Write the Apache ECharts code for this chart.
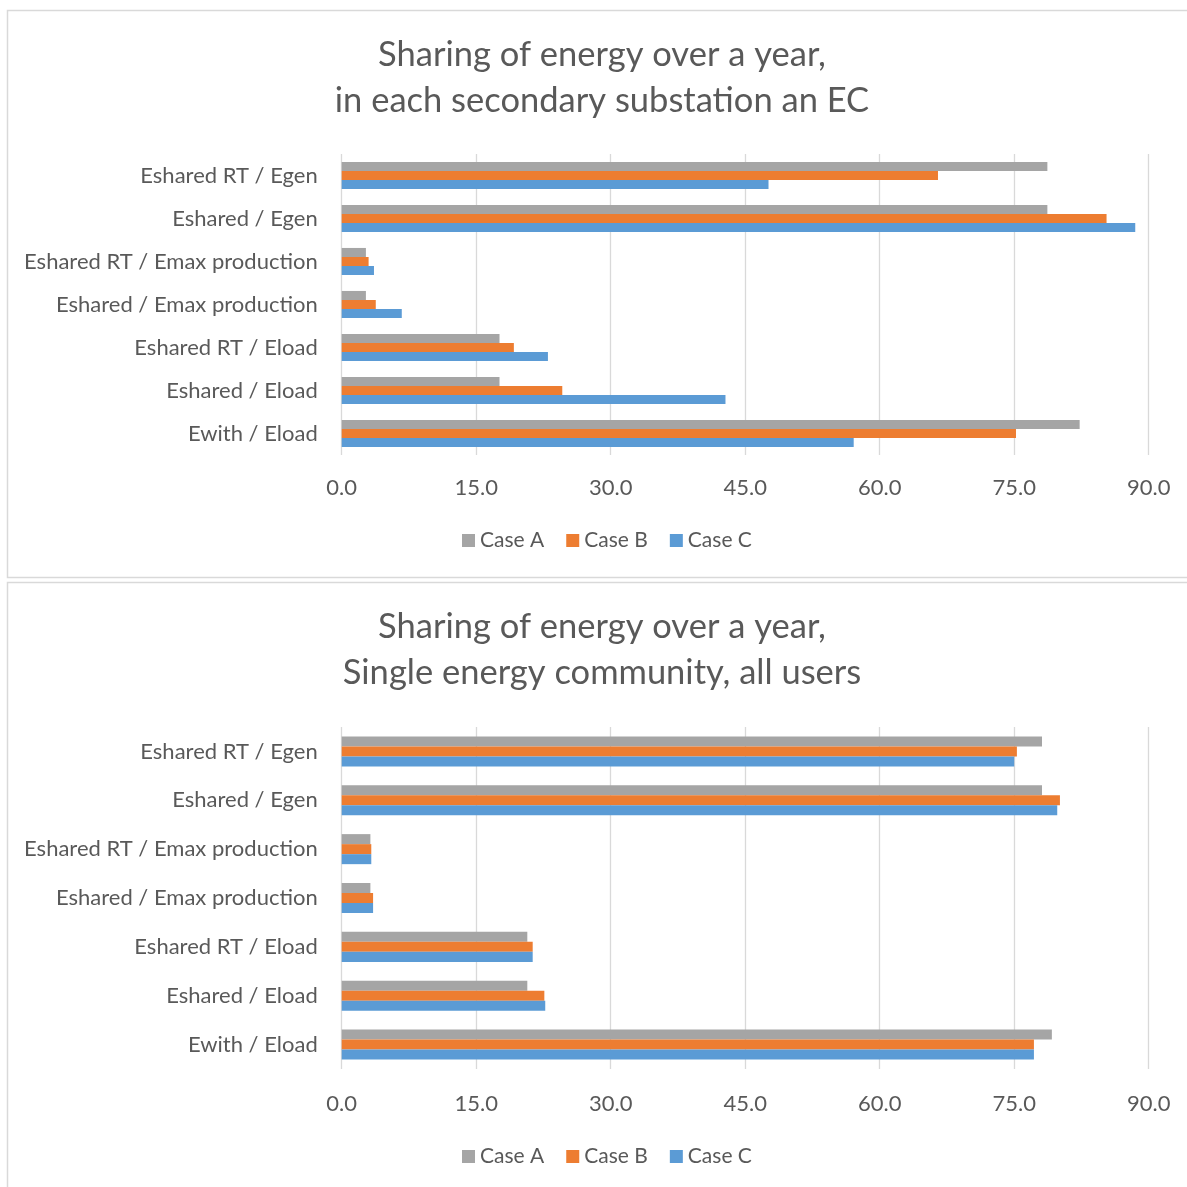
<!DOCTYPE html>
<html>
<head>
<meta charset="utf-8">
<script src="https://cdn.jsdelivr.net/npm/echarts@6/dist/echarts.min.js"></script>
<style>
  html, body { margin: 0; padding: 0; background: #ffffff; }
  #chart { width: 1187px; height: 1187px; }
</style>
</head>
<body>
<div id="chart"></div>
<script>
// Indicator labels, listed top to bottom
const categories = [
  'Eshared RT / Egen',
  'Eshared / Egen',
  'Eshared RT / Emax production',
  'Eshared / Emax production',
  'Eshared RT / Eload',
  'Eshared / Eload',
  'Ewith / Eload'
];
const caseNames = ['Case A', 'Case B', 'Case C'];
const caseColors = ['#A5A5A5', '#ED7D31', '#5B9BD5'];

// Value axis ticks
const axisMin = 0;
const axisMax = 90;
const axisStep = 15;

// Per secondary substation EC (values in %)
const substationCaseA = [78.7, 78.7, 2.7, 2.7, 17.6, 17.6, 82.3];
const substationCaseB = [66.5, 85.3, 3.0, 3.8, 19.2, 24.6, 75.2];
const substationCaseC = [47.6, 88.5, 3.6, 6.7, 23.0, 42.8, 57.1];

// Single energy community, all users (values in %)
const communityCaseA = [78.1, 78.1, 3.2, 3.2, 20.7, 20.7, 79.2];
const communityCaseB = [75.3, 80.1, 3.3, 3.5, 21.3, 22.6, 77.2];
const communityCaseC = [75.0, 79.8, 3.3, 3.5, 21.3, 22.7, 77.2];

const titleTop = ['Sharing of energy over a year,', 'in each secondary substation an EC'];
const titleBottom = ['Sharing of energy over a year,', 'Single energy community, all users'];

const FONT = 'Lato, "Open Sans", sans-serif';
const TEXT = '#595959';
const GRIDLINE = '#d9d9d9';

const chart = echarts.init(document.getElementById('chart'), null, { renderer: 'canvas' });

function xAxisFor(gridIndex, margin) {
  return {
    type: 'value', gridIndex: gridIndex,
    min: axisMin, max: axisMax, interval: axisStep,
    axisLine: { show: false }, axisTick: { show: false },
    splitLine: { show: true, lineStyle: { color: GRIDLINE, width: 1.3 } },
    axisLabel: {
      color: TEXT, fontFamily: FONT, fontSize: 22, margin: margin,
      formatter: v => v.toFixed(1)
    }
  };
}
function yAxisFor(gridIndex) {
  return {
    type: 'category', gridIndex: gridIndex, data: categories, inverse: true,
    axisLine: { show: false }, axisTick: { show: false },
    axisLabel: { color: TEXT, fontFamily: FONT, fontSize: 22, margin: 24 }
  };
}
function barsFor(axisIndex, lists, gap) {
  return lists.map((vals, i) => ({
    name: caseNames[i], type: 'bar',
    xAxisIndex: axisIndex, yAxisIndex: axisIndex,
    data: vals, barGap: '0%', barCategoryGap: gap,
    itemStyle: { color: caseColors[i] },
    emphasis: { disabled: true }
  }));
}
function legendFor(top) {
  return {
    data: caseNames, left: 462, top: top, padding: 0,
    itemWidth: 13, itemHeight: 13, itemGap: 22, icon: 'rect', selectedMode: false,
    textStyle: { color: TEXT, fontFamily: FONT, fontSize: 21 }
  };
}
function titleText(lines, y) {
  return lines.map((t, i) => ({
    type: 'text', x: 602, y: y + i * 46,
    style: { text: t, fill: TEXT, font: '34.5px ' + FONT, textAlign: 'center', textVerticalAlign: 'middle' }
  }));
}

chart.setOption({
  animation: false,
  backgroundColor: '#ffffff',
  grid: [
    { left: 341.7, right: 38.3, top: 154, height: 301 },
    { left: 341.7, right: 38.3, top: 727, height: 342 }
  ],
  xAxis: [xAxisFor(0, 22), xAxisFor(1, 24)],
  yAxis: [yAxisFor(0), yAxisFor(1)],
  legend: [legendFor(530), legendFor(1146)],
  series: [
    ...barsFor(0, [substationCaseA, substationCaseB, substationCaseC], '37%'),
    ...barsFor(1, [communityCaseA, communityCaseB, communityCaseC], '38.5%')
  ],
  graphic: [
    { type: 'rect', shape: { x: 7.5, y: 10.5, width: 1200, height: 567 },
      style: { fill: 'none', stroke: GRIDLINE, lineWidth: 1.5 }, silent: true },
    { type: 'rect', shape: { x: 7.5, y: 582.5, width: 1200, height: 640 },
      style: { fill: 'none', stroke: GRIDLINE, lineWidth: 1.5 }, silent: true },
    ...titleText(titleTop, 55),
    ...titleText(titleBottom, 627)
  ]
});
</script>
</body>
</html>
